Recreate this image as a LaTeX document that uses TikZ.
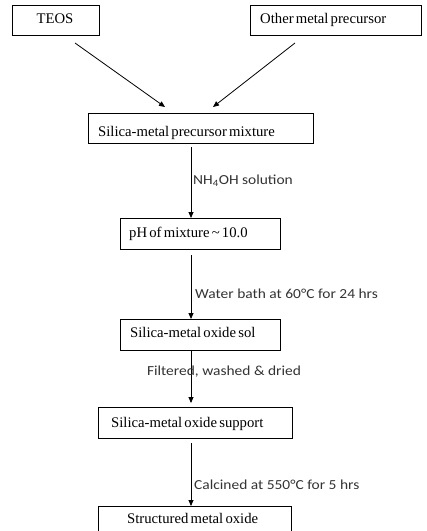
\documentclass[tikz,border=0pt]{standalone}
\usepackage{fontspec}
\setmainfont{Liberation Serif}[WordSpace=0.6]
\newfontfamily\lbl{Carlito}[FakeStretch=1.12]
\usetikzlibrary{arrows.meta,calc}
\begin{document}
\begin{tikzpicture}[x=1pt,y=-1pt,
  box/.style={draw,line width=0.8pt,rectangle,anchor=north west,inner sep=0pt},
  txt/.style={inner sep=0pt,font=\fontsize{14.7}{16}\selectfont},
  lab/.style={inner sep=0pt,font=\lbl\fontsize{13.8}{15}\selectfont,text=black!80},
  arr/.style={line width=0.8pt,-{Triangle[length=6pt,width=5pt]}}]
\useasboundingbox (0,0) rectangle (427,531);
% boxes
\node[box,minimum width=87pt,minimum height=30pt] (teos) at (12,5) {};
\node[box,minimum width=171pt,minimum height=30pt] (other) at (250,5) {};
\node[box,minimum width=225pt,minimum height=30pt] (mix) at (88,113) {};
\node[box,minimum width=160pt,minimum height=31pt] (ph) at (120,218) {};
\node[box,minimum width=160pt,minimum height=31pt] (sol) at (120,319) {};
\node[box,minimum width=194pt,minimum height=31pt] (sup) at (98,407) {};
\node[box,minimum width=193pt,minimum height=40pt] (str) at (98,506) {};
% texts
\node[txt,anchor=base] at (55,23) {TEOS};
\node[txt,anchor=base west] at (260,23) {Other metal precursor};
\node[txt,anchor=base west] at (98,136) {Silica-metal precursor mixture};
\node[txt,anchor=base west] at (129,237) {pH of mixture \textasciitilde\ 10.0};
\node[txt,anchor=base west] at (130,337) {Silica-metal oxide sol};
\node[txt,anchor=base west] at (111,427) {Silica-metal oxide support};
\node[txt,anchor=base west] at (127,523) {Structured metal oxide};
% connectors
\coordinate (a1) at (75,43);
\coordinate (a2) at (295,43);
\draw[arr] (a1) -- (165,107);
\draw[arr] (a2) -- (213,107);
\draw[arr] (191,147) -- (ph.north -| 191,0);
\draw[arr] (191,255) -- (sol.north -| 191,0);
\draw[arr] (sol.south -| 191,0) -- (191,403);
\draw[arr] (191,443) -- (str.north -| 191,0);
% labels
\node[lab,anchor=base west] at (193,184) {NH\textsubscript{4}OH solution};
\node[lab,anchor=base west] at (195,298) {Water bath at 60°C for 24 hrs};
\node[lab,anchor=base] at (224,375) {Filtered, washed \& dried};
\node[lab,anchor=base west] at (194,489) {Calcined at 550°C for 5 hrs};
\end{tikzpicture}
\end{document}
